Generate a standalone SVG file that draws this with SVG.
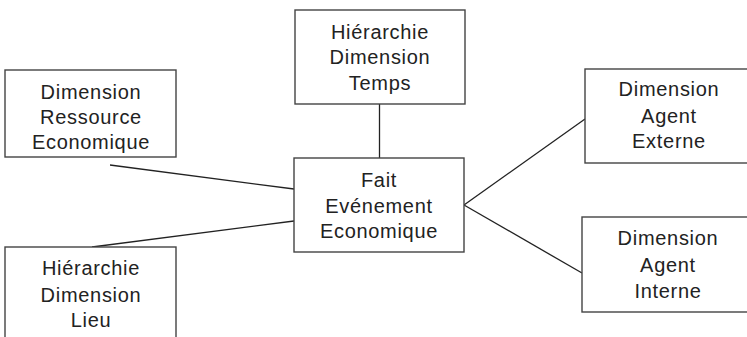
<svg xmlns="http://www.w3.org/2000/svg" width="747" height="337" viewBox="0 0 747 337">
<style>
.box{fill:#fff;stroke:#444;stroke-width:1.4}
.ln{stroke:#222;stroke-width:1.3;fill:none}
text{font-family:"Liberation Sans",Arial,sans-serif;font-size:20px;fill:#222;text-anchor:middle;letter-spacing:0.7px}
</style>
<rect width="747" height="337" fill="#fff"/>
<g id="connectors">
<line class="ln" x1="379.5" y1="104" x2="379.5" y2="158"/>
<line class="ln" x1="110" y1="165" x2="294" y2="189"/>
<line class="ln" x1="92" y1="247" x2="294" y2="221"/>
<line class="ln" x1="464" y1="205" x2="585" y2="119"/>
<line class="ln" x1="464" y1="205" x2="582" y2="273"/>
</g>
<g id="temps">
<rect class="box" x="295" y="10" width="170" height="94"/>
<text x="380" y="38.5">Hiérarchie</text>
<text x="380" y="64">Dimension</text>
<text x="380" y="89.5">Temps</text>
</g>
<g id="ressource">
<rect class="box" x="5" y="70" width="171" height="87"/>
<text x="91" y="99">Dimension</text>
<text x="91" y="124">Ressource</text>
<text x="91" y="149">Economique</text>
</g>
<g id="fait">
<rect class="box" x="294" y="158" width="170" height="94"/>
<text x="379" y="186.5">Fait</text>
<text x="379" y="212.5">Evénement</text>
<text x="379" y="238">Economique</text>
</g>
<g id="lieu">
<rect class="box" x="5" y="247" width="171" height="100"/>
<text x="91" y="275">Hiérarchie</text>
<text x="91" y="301.5">Dimension</text>
<text x="91" y="326.5">Lieu</text>
</g>
<g id="externe">
<rect class="box" x="585" y="69" width="175" height="94"/>
<text x="669" y="96">Dimension</text>
<text x="669" y="122.5">Agent</text>
<text x="669" y="148">Externe</text>
</g>
<g id="interne">
<rect class="box" x="582" y="217" width="180" height="95"/>
<text x="668" y="245">Dimension</text>
<text x="668" y="271.5">Agent</text>
<text x="668" y="298">Interne</text>
</g>
</svg>
